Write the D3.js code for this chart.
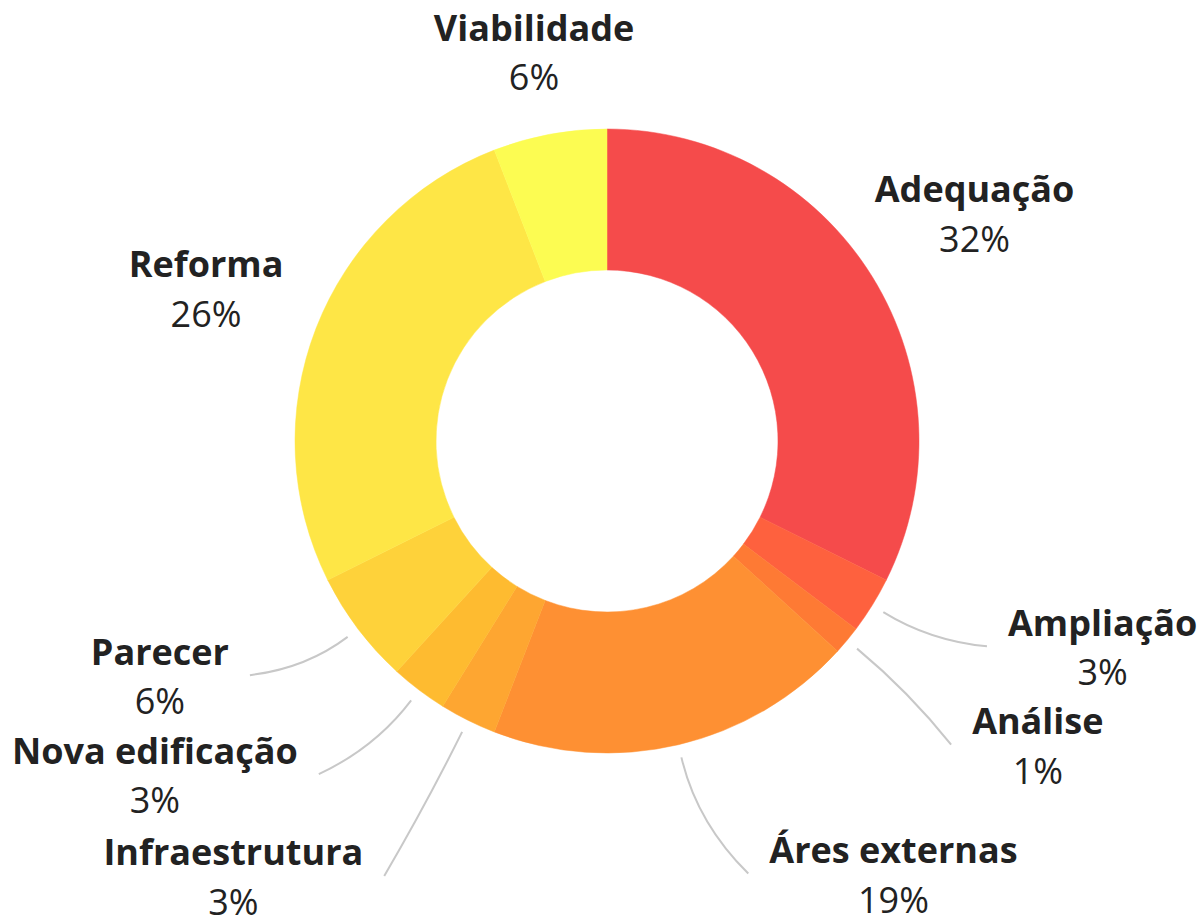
<!DOCTYPE html>
<html lang="pt">

<head>
    <meta charset="UTF-8">
    <title>Donut</title>
    <script src="https://d3js.org/d3.v7.min.js"></script>
    <style type="text/css">
        body {
            margin: 0;
            background: #fff;
        }

        text {
            font-family: "Open Sans", "Noto Sans", sans-serif;
            fill: #222;
        }
    </style>
</head>

<body>
    <div id="chartArea"></div>
    <script type="text/javascript">
        var categories = ['Adequação', 'Ampliação', 'Análise', 'Áres externas', 'Infraestrutura',
            'Nova edificação', 'Parecer', 'Reforma', 'Viabilidade'];
        var counts = [22, 2, 1, 13, 2, 2, 4, 18, 4];
        var colors = ['#f54b4b', '#fe613e', '#fe7a34', '#fe9033', '#fea631',
            '#febb30', '#fed23a', '#fee646', '#fcfc52'];
        // label offsets from the slice centroid (layout only)
        var labelNudge = [[2, -1], [130, -20], [100, 30], [188, 15], [-182, 51],
            [-193, -9], [-104, -24], [0, 3], [6, 34]];

        var W = 1202, H = 917;
        var cx = 607, cy = 441;
        var outerR = 312, innerR = 171, labelR = 430, tickR = 325;

        var total = d3.sum(counts);
        var data = categories.map(function (c, i) {
            return { name: c, value: counts[i], color: colors[i], nudge: labelNudge[i] };
        });

        var svg = d3.select('#chartArea').append('svg')
            .attr('width', W)
            .attr('height', H);

        var g = svg.append('g')
            .attr('transform', 'translate(' + cx + ',' + cy + ')');

        var pie = d3.pie()
            .sort(null)
            .value(function (d) { return d.value; });

        var arc = d3.arc()
            .innerRadius(innerR)
            .outerRadius(outerR);

        var arcs = pie(data);

        g.selectAll('path.slice')
            .data(arcs)
            .enter()
            .append('path')
            .attr('class', 'slice')
            .attr('d', arc)
            .attr('fill', function (d) { return d.data.color; })
            .attr('stroke', function (d) { return d.data.color; })
            .attr('stroke-width', 0.5);

        function polar(a, r) {
            return [r * Math.sin(a), -r * Math.cos(a)];
        }

        var labels = g.selectAll('g.label')
            .data(arcs)
            .enter()
            .append('g')
            .attr('class', 'label')
            .each(function (d) {
                var mid = (d.startAngle + d.endAngle) / 2;
                var p = polar(mid, labelR);
                d.lx = p[0] + d.data.nudge[0];
                d.ly = p[1] + d.data.nudge[1];
                d.moved = Math.hypot(d.data.nudge[0], d.data.nudge[1]) > 60;
                d.mid = mid;
            })
            .attr('transform', function (d) { return 'translate(' + d.lx + ',' + d.ly + ')'; });

        labels.append('text')
            .attr('class', 'name')
            .attr('text-anchor', 'middle')
            .attr('y', -11.5)
            .style('font-size', '36px')
            .style('font-weight', 700)
            .text(function (d) { return d.data.name; });

        labels.append('text')
            .attr('text-anchor', 'middle')
            .attr('y', 38)
            .style('font-size', '36px')
            .style('font-weight', 400)
            .text(function (d) { return Math.round(d.data.value / total * 100) + '%'; });

        // curved ticks for labels that were pushed away
        labels.each(function (d) {
            if (!d.moved) return;
            var w = this.querySelector('text.name').getBBox().width;
            var s = polar(d.mid, tickR);
            var side = d.lx > 0 ? -1 : 1;
            var e = [d.lx + side * (w / 2 + 21), d.ly - 1];
            var dist = Math.hypot(e[0] - s[0], e[1] - s[1]);
            var dir = [Math.sin(d.mid), -Math.cos(d.mid)];
            var c = [s[0] + dir[0] * dist * 0.5, s[1] + dir[1] * dist * 0.5];
            var path = d3.path();
            path.moveTo(s[0], s[1]);
            path.quadraticCurveTo(c[0], c[1], e[0], e[1]);
            g.insert('path', 'g.label')
                .attr('d', path.toString())
                .attr('fill', 'none')
                .attr('stroke', '#c8c8c8')
                .attr('stroke-width', 2);
        });
    </script>
</body>

</html>
